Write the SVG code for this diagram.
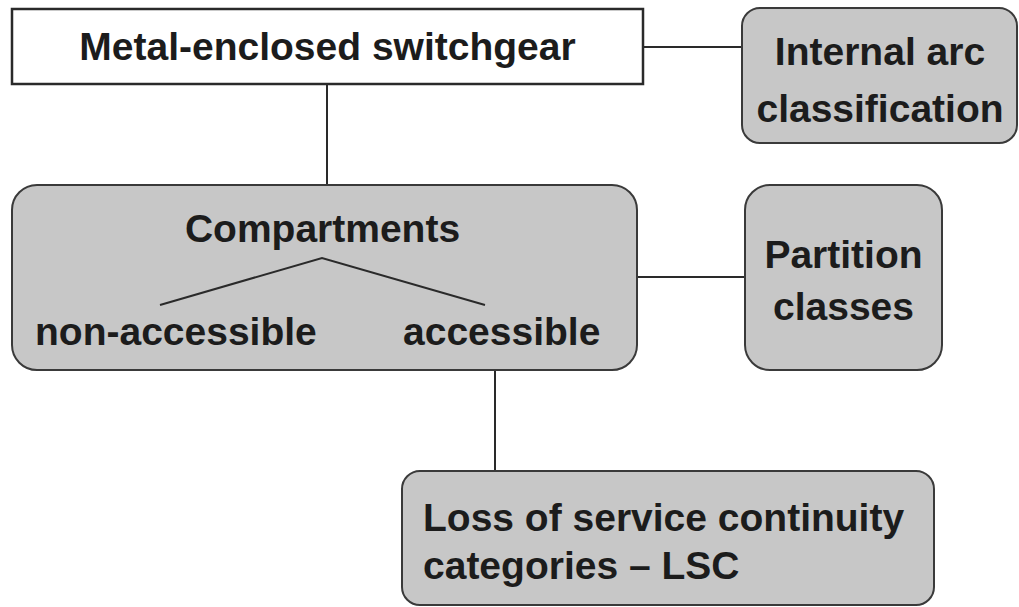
<svg xmlns="http://www.w3.org/2000/svg" width="1019" height="607" viewBox="0 0 1019 607">
<style>
.box{fill:#c7c7c7;stroke:#3a3a3a;stroke-width:2}
.wbox{fill:#ffffff;stroke:#2a2a2a;stroke-width:2.5}
.lbl{font-family:"Liberation Sans",Arial,sans-serif;font-weight:bold;font-size:39px;fill:#1c1c1c}
.c{text-anchor:middle}
.ln{stroke:#2a2a2a;stroke-width:2;fill:none}
</style>
<rect width="1019" height="607" fill="#ffffff"/>
<g id="connectors">
<line class="ln" x1="643" y1="47" x2="742" y2="47"/>
<line class="ln" x1="327" y1="84" x2="327" y2="185"/>
<line class="ln" x1="637" y1="277" x2="745" y2="277"/>
<line class="ln" x1="495" y1="370" x2="495" y2="471"/>
</g>
<g id="switchgear">
<rect class="wbox" x="12" y="9" width="631" height="75"/>
<text class="lbl c" x="327.5" y="60">Metal-enclosed switchgear</text>
</g>
<g id="internal-arc">
<rect class="box" x="742" y="8" width="275" height="135" rx="18"/>
<text class="lbl c" x="880" y="65">Internal arc</text>
<text class="lbl c" x="880" y="122">classification</text>
</g>
<g id="compartments">
<rect class="box" x="12" y="185" width="625" height="185" rx="25"/>
<text class="lbl c" x="322.5" y="242">Compartments</text>
<polyline class="ln" points="160,305 322,258 485,305"/>
<text class="lbl" x="35" y="345">non-accessible</text>
<text class="lbl" x="403" y="345">accessible</text>
</g>
<g id="partition">
<rect class="box" x="745" y="185" width="197" height="185" rx="25"/>
<text class="lbl c" x="843.5" y="268">Partition</text>
<text class="lbl c" x="843.5" y="320">classes</text>
</g>
<g id="lsc">
<rect class="box" x="402" y="471" width="532" height="134" rx="18"/>
<text class="lbl" x="423" y="531">Loss of service continuity</text>
<text class="lbl" x="423" y="579">categories – LSC</text>
</g>
</svg>
